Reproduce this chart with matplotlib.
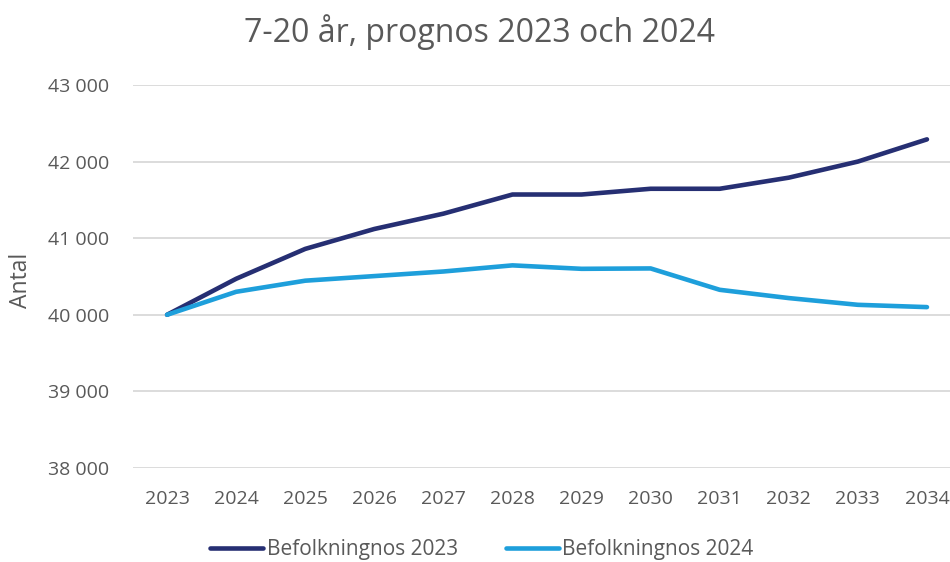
import numpy as np
import matplotlib
matplotlib.use("Agg")
import matplotlib.pyplot as plt
from matplotlib.ticker import FuncFormatter

# data
years = ["2023", "2024", "2025", "2026", "2027", "2028",
         "2029", "2030", "2031", "2032", "2033", "2034"]
prognos_2023 = [40000, 40470, 40860, 41120, 41320, 41570,
                41570, 41645, 41645, 41790, 42000, 42290]
prognos_2024 = [40000, 40300, 40445, 40505, 40565, 40645,
                40600, 40605, 40326, 40218, 40130, 40100]
y_ticks = [38000, 39000, 40000, 41000, 42000, 43000]

DARK = '#262f73'
LIGHT = '#1e9fdb'
GRID = '#d9d9d9'
TEXT = '#595959'

plt.rcParams['font.family'] = ['Open Sans', 'DejaVu Sans']

fig = plt.figure(figsize=(9.5, 5.62), dpi=100)
ax = fig.add_axes([0.1395, 0.1673, 0.8726, 0.6815])

x = np.arange(len(years))
ax.plot(x, prognos_2023, color=DARK, lw=3.3, solid_capstyle='round',
        solid_joinstyle='round', label='Befolkningnos 2023', zorder=3)
ax.plot(x, prognos_2024, color=LIGHT, lw=3.3, solid_capstyle='round',
        solid_joinstyle='round', label='Befolkningnos 2024', zorder=3)

ax.set_xlim(-0.5, len(years) - 0.5)
ax.set_ylim(38000, 43000)
ax.set_xticks(x)
ax.set_xticklabels(years)
ax.set_yticks(y_ticks)
ax.yaxis.set_major_formatter(FuncFormatter(lambda v, p: f"{int(v):,}".replace(",", " ")))
ax.tick_params(axis='both', length=0, labelsize=14, colors=TEXT)
ax.tick_params(axis='x', pad=16)
ax.tick_params(axis='y', pad=17)
ax.grid(axis='y', color=GRID, lw=1.3)
ax.set_axisbelow(True)
for s in ax.spines.values():
    s.set_visible(False)

ax.set_ylabel('Antal', fontsize=16.5, color=TEXT)
ax.yaxis.set_label_coords(-0.12, 0.49)

fig.text(0.505, 0.943, '7-20 år, prognos 2023 och 2024', ha='center', va='center',
         fontsize=23, color=TEXT)

fig.legend(loc='center', bbox_to_anchor=(0.507, 0.022), ncol=2, frameon=False,
           fontsize=15, labelcolor=TEXT, handlelength=2.55, handletextpad=0.15,
           columnspacing=2.3, borderpad=0.0)

fig.savefig('out.png', dpi=100)
